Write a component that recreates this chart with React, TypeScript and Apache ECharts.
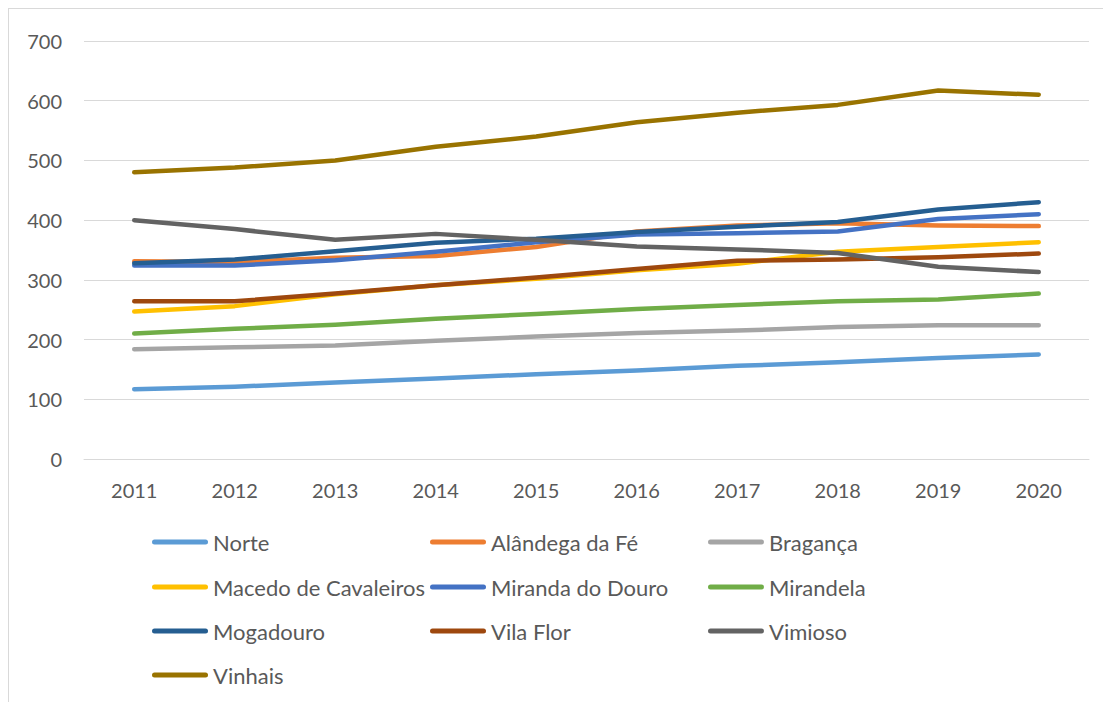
import React, { useEffect, useRef } from "react";
import * as echarts from "echarts";

const years = ["2011", "2012", "2013", "2014", "2015", "2016", "2017", "2018", "2019", "2020"];
const seriesNames = [
  "Norte",
  "Alândega da Fé",
  "Bragança",
  "Macedo de Cavaleiros",
  "Miranda do Douro",
  "Mirandela",
  "Mogadouro",
  "Vila Flor",
  "Vimioso",
  "Vinhais",
];
const norte = [117, 121, 128, 135, 142, 148, 156, 162, 169, 175];
const alandega = [331, 330, 337, 340, 355, 381, 391, 395, 391, 390];
const braganca = [184, 187, 190, 198, 205, 211, 215, 221, 224, 224];
const macedo = [247, 256, 276, 291, 302, 316, 327, 347, 355, 363];
const miranda = [324, 324, 333, 347, 363, 376, 378, 381, 402, 410];
const mirandela = [210, 218, 225, 235, 243, 251, 258, 264, 267, 277];
const mogadouro = [328, 334, 348, 362, 369, 380, 389, 397, 418, 430];
const vilaFlor = [264, 264, 277, 291, 304, 318, 332, 334, 338, 344];
const vimioso = [400, 385, 367, 377, 367, 356, 351, 345, 322, 313];
const vinhais = [480, 488, 500, 523, 540, 564, 580, 593, 617, 610];
const seriesValues = [norte, alandega, braganca, macedo, miranda, mirandela, mogadouro, vilaFlor, vimioso, vinhais];
const colors = ["#5b9bd5", "#ed7d31", "#a5a5a5", "#ffc000", "#4472c4", "#70ad47", "#255e91", "#9e480e", "#636363", "#997300"];
const yTicks = [0, 100, 200, 300, 400, 500, 600, 700];

const FONT = "Lato";

export default function App() {
  const ref = useRef<HTMLDivElement>(null);
  useEffect(() => {
    if (!ref.current) return;
    const chart = echarts.init(ref.current, null, { renderer: "svg" });
    const legendCols = [152, 430, 708];
    const legendRows = [531, 576, 620, 664];
    const legends = seriesNames.map((name, i) => ({
      data: [name],
      left: legendCols[i % 3],
      top: legendRows[Math.floor(i / 3)],
      itemWidth: 56,
      itemHeight: 5,
      icon: "path://M2.5,0 L53.5,0 A2.5,2.5 0 0 1 53.5,5 L2.5,5 A2.5,2.5 0 0 1 2.5,0 Z",
      itemStyle: { color: colors[i] },
      textStyle: { color: "#595959", fontSize: 22, fontFamily: FONT },
      selectedMode: false,
      padding: 0,
    }));
    chart.setOption({
      animation: false,
      color: colors,
      grid: { left: 84, right: 14, top: 41, bottom: 243, containLabel: false },
      legend: legends,
      xAxis: {
        type: "category",
        data: years,
        boundaryGap: true,
        axisLine: { lineStyle: { color: "#d9d9d9", width: 1 } },
        axisTick: { show: false },
        axisLabel: { color: "#595959", fontSize: 20, fontFamily: FONT, margin: 21 },
      },
      yAxis: {
        type: "value",
        min: yTicks[0],
        max: yTicks[yTicks.length - 1],
        interval: 100,
        axisLine: { show: false },
        axisTick: { show: false },
        splitLine: { lineStyle: { color: "#d9d9d9", width: 1 } },
        axisLabel: { color: "#595959", fontSize: 20, fontFamily: FONT, margin: 22 },
      },
      series: seriesNames.map((name, i) => ({
        name,
        type: "line",
        data: seriesValues[i],
        symbol: "none",
        lineStyle: { width: 4.5, color: colors[i], cap: "round", join: "round" },
        itemStyle: { color: colors[i] },
      })),
    });
    return () => chart.dispose();
  }, []);
  return (
    <div
      style={{
        position: "absolute",
        left: 0,
        top: 0,
        width: 1103,
        height: 702,
        background: "#fff",
      }}
    >
      <div
        style={{
          position: "absolute",
          left: 8,
          top: 8,
          right: 0,
          bottom: 0,
          borderLeft: "1px solid #d9d9d9",
          borderTop: "1px solid #d9d9d9",
        }}
      />
      <div ref={ref} style={{ position: "absolute", left: 0, top: 0, width: 1103, height: 702 }} />
    </div>
  );
}
